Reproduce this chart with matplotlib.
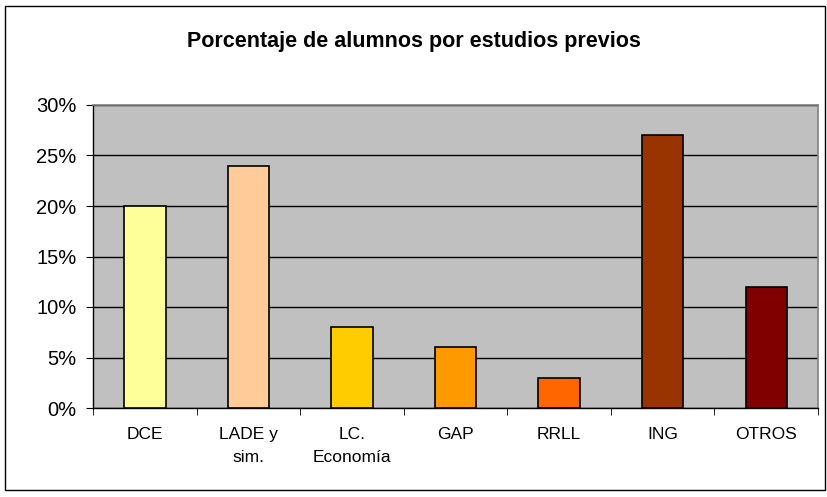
import numpy as np
import matplotlib.pyplot as plt
from matplotlib.patches import Rectangle
from matplotlib.ticker import PercentFormatter

# datos
categorias = ['DCE', 'LADE y\nsim.', 'LC.\nEconomía', 'GAP', 'RRLL', 'ING', 'OTROS']
porcentajes = [20, 24, 8, 6, 3, 27, 12]
colores = ['#FFFF99', '#FFCC99', '#FFCC00', '#FF9900', '#FF6600', '#993300', '#800000']

plt.rcParams['font.family'] = ['Liberation Sans', 'DejaVu Sans']

fig = plt.figure(figsize=(8.27, 4.97), dpi=100)
ax = fig.add_axes([93/827, 89/497, 725/827, 303/497])

x = np.arange(len(categorias))
ax.bar(x, porcentajes, width=0.4, color=colores, edgecolor='black', linewidth=1.2, zorder=3)

ax.set_facecolor('#C0C0C0')
ax.set_xlim(-0.5, len(categorias) - 0.5)
ax.set_ylim(0, 30)
ax.set_yticks(np.arange(0, 31, 5))
ax.yaxis.set_major_formatter(PercentFormatter(decimals=0))
ax.yaxis.grid(True, color='black', linewidth=1, zorder=1)

# etiquetas del eje x centradas, ticks en los límites
ax.set_xticks(x)
ax.set_xticklabels(categorias, fontsize=12.5, linespacing=1.65, va='top')
ax.tick_params(axis='x', length=0, pad=14)
ax.set_xticks(np.arange(-0.5, len(categorias)), minor=True)
ax.tick_params(axis='x', which='minor', length=5, direction='out', color='black')
ax.tick_params(axis='y', labelsize=14.5, length=5, direction='out', pad=7)

for lado in ['left', 'bottom']:
    ax.spines[lado].set_color('black')
    ax.spines[lado].set_linewidth(1)
for lado in ['top', 'right']:
    ax.spines[lado].set_color('#808080')
    ax.spines[lado].set_linewidth(1.2)

fig.text(0.5, 1 - 41/497, 'Porcentaje de alumnos por estudios previos',
         ha='center', va='center', fontsize=15.5, fontweight='bold')

# marco exterior
fig.patches.append(Rectangle((5/827, 7/497), 820/827, 484/497, transform=fig.transFigure,
                             fill=False, edgecolor='black', linewidth=1))

fig.savefig('out.png', dpi=100)
